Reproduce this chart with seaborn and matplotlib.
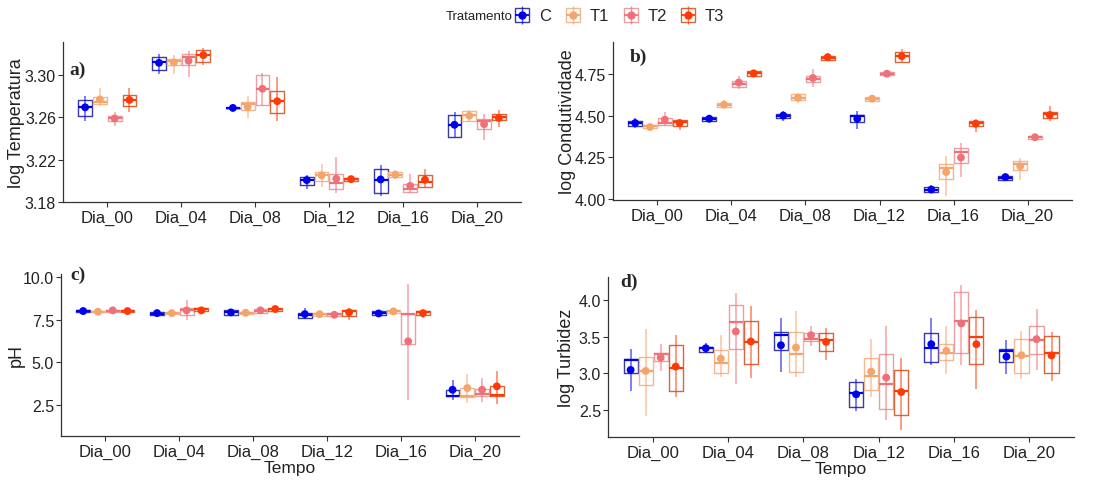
import numpy as np
import pandas as pd
import matplotlib
matplotlib.use('Agg')
import matplotlib.pyplot as plt
from matplotlib.lines import Line2D
import seaborn as sns

sns.set_theme(style='ticks')
plt.rcParams['font.family'] = ['Liberation Sans', 'DejaVu Sans']

dias = ['Dia_00', 'Dia_04', 'Dia_08', 'Dia_12', 'Dia_16', 'Dia_20']
tratamentos = ['C', 'T1', 'T2', 'T3']

# each row = one day, columns = C, T1, T2, T3
temp_q1 = [[3.2616, 3.2725, 3.2562, 3.2709], [3.3054, 3.3096, 3.3102, 3.3128], [3.2686, 3.2674, 3.2722, 3.2642],
           [3.1960, 3.1998, 3.1922, 3.1998], [3.1880, 3.2037, 3.1896, 3.1938], [3.2418, 3.2568, 3.2494, 3.2579]]
temp_med = [[3.2696, 3.2750, 3.2590, 3.2766], [3.3122, 3.3134, 3.3170, 3.3192], [3.2690, 3.2728, 3.2872, 3.2757],
            [3.2008, 3.2056, 3.1976, 3.2014], [3.2008, 3.2056, 3.1918, 3.1986], [3.2530, 3.2622, 3.2568, 3.2600]]
temp_q3 = [[3.2766, 3.2792, 3.2616, 3.2814], [3.3176, 3.3154, 3.3202, 3.3240], [3.2693, 3.2750, 3.3006, 3.2850],
           [3.2030, 3.2085, 3.2062, 3.2027], [3.2114, 3.2078, 3.1970, 3.2050], [3.2626, 3.2658, 3.2584, 3.2633]]
temp_mean = [[3.2696, 3.2770, 3.2590, 3.2766], [3.3118, 3.3122, 3.3138, 3.3192], [3.2690, 3.2699, 3.2872, 3.2754],
             [3.2005, 3.2050, 3.2018, 3.2014], [3.2011, 3.2056, 3.1950, 3.2008], [3.2530, 3.2616, 3.2536, 3.2595]]
temp_lo = [[3.2562, 3.2712, 3.2514, 3.2654], [3.3010, 3.3010, 3.2984, 3.3102], [3.2685, 3.2594, 3.2722, 3.2568],
           [3.1922, 3.1944, 3.1880, 3.1992], [3.1858, 3.2014, 3.1880, 3.1938], [3.2418, 3.2552, 3.2386, 3.2506]]
temp_hi = [[3.2808, 3.2878, 3.2654, 3.2878], [3.3198, 3.3192, 3.3230, 3.3256], [3.2695, 3.2802, 3.3026, 3.2981],
           [3.2050, 3.2158, 3.2226, 3.2040], [3.2146, 3.2098, 3.2066, 3.2110], [3.2654, 3.2674, 3.2632, 3.2670]]

cond_q1 = [[4.440, 4.426, 4.442, 4.436], [4.470, 4.553, 4.675, 4.736], [4.486, 4.592, 4.705, 4.837],
           [4.462, 4.588, 4.744, 4.825], [4.041, 4.122, 4.219, 4.436], [4.116, 4.172, 4.361, 4.484]]
cond_med = [[4.456, 4.436, 4.456, 4.462], [4.482, 4.566, 4.693, 4.754], [4.501, 4.608, 4.720, 4.847],
            [4.497, 4.602, 4.752, 4.857], [4.057, 4.189, 4.280, 4.456], [4.128, 4.213, 4.371, 4.510]]
cond_q3 = [[4.470, 4.446, 4.486, 4.476], [4.491, 4.578, 4.709, 4.766], [4.513, 4.628, 4.736, 4.857],
           [4.507, 4.614, 4.760, 4.882], [4.071, 4.213, 4.304, 4.470], [4.138, 4.229, 4.379, 4.524]]
cond_mean = [[4.456, 4.432, 4.476, 4.456], [4.482, 4.566, 4.699, 4.754], [4.501, 4.608, 4.726, 4.851],
             [4.482, 4.602, 4.752, 4.857], [4.057, 4.162, 4.249, 4.452], [4.132, 4.197, 4.371, 4.504]]
cond_lo = [[4.426, 4.412, 4.436, 4.412], [4.466, 4.547, 4.659, 4.736], [4.466, 4.578, 4.675, 4.827],
           [4.420, 4.582, 4.736, 4.821], [4.036, 4.020, 4.132, 4.401], [4.116, 4.116, 4.355, 4.470]]
cond_hi = [[4.486, 4.446, 4.523, 4.482], [4.501, 4.592, 4.736, 4.774], [4.527, 4.638, 4.780, 4.878],
           [4.527, 4.618, 4.766, 4.902], [4.085, 4.257, 4.334, 4.482], [4.146, 4.249, 4.385, 4.560]]

ph_q1 = [[7.93, 7.93, 7.97, 7.93], [7.75, 7.83, 7.79, 7.99], [7.75, 7.85, 7.89, 8.01],
         [7.60, 7.74, 7.70, 7.74], [7.75, 7.89, 6.09, 7.79], [2.99, 2.95, 2.99, 2.99]]
ph_med = [[8.01, 7.97, 8.03, 8.01], [7.85, 7.89, 8.05, 8.13], [7.93, 7.91, 8.03, 8.13],
          [7.75, 7.81, 7.81, 7.99], [7.87, 7.99, 7.83, 7.95], [3.03, 3.03, 3.15, 3.07]]
ph_q3 = [[8.09, 8.00, 8.09, 8.09], [7.95, 7.97, 8.19, 8.19], [8.05, 7.97, 8.15, 8.21],
         [7.89, 7.89, 7.89, 8.09], [7.99, 8.09, 7.85, 8.03], [3.34, 3.48, 3.42, 3.62]]
ph_mean = [[8.01, 7.97, 8.05, 8.01], [7.89, 7.89, 8.05, 8.05], [7.93, 7.91, 8.05, 8.13],
           [7.83, 7.83, 7.79, 7.93], [7.87, 7.99, 6.23, 7.89], [3.38, 3.48, 3.38, 3.58]]
ph_lo = [[7.85, 7.89, 7.89, 7.89], [7.70, 7.79, 7.50, 7.85], [7.70, 7.81, 7.89, 7.95],
         [7.54, 7.72, 7.68, 7.46], [7.70, 7.85, 2.80, 7.60], [2.76, 2.60, 2.66, 2.54]]
ph_hi = [[8.13, 8.05, 8.19, 8.19], [8.05, 7.99, 8.64, 8.24], [8.13, 7.99, 8.17, 8.24],
         [8.19, 7.93, 7.91, 8.19], [8.09, 8.13, 9.62, 8.05], [3.97, 4.32, 4.07, 4.50]]

turb_q1 = [[3.007, 2.834, 3.168, 2.756], [3.296, 3.007, 3.337, 3.131], [3.318, 3.021, 3.442, 3.305],
           [2.541, 2.770, 2.504, 2.427], [3.158, 3.177, 3.273, 3.131], [3.158, 2.999, 3.259, 2.997]]
turb_med = [[3.181, 3.030, 3.259, 3.076], [3.341, 3.145, 3.703, 3.433], [3.524, 3.259, 3.474, 3.451],
            [2.724, 2.962, 2.847, 2.756], [3.341, 3.273, 3.716, 3.497], [3.305, 3.236, 3.456, 3.270]]
turb_q3 = [[3.190, 3.227, 3.273, 3.383], [3.364, 3.318, 3.936, 3.716], [3.565, 3.565, 3.547, 3.543],
           [2.879, 3.204, 3.259, 3.044], [3.556, 3.396, 4.105, 3.762], [3.337, 3.465, 3.639, 3.512]]
turb_mean = [[3.044, 3.030, 3.213, 3.090], [3.341, 3.200, 3.570, 3.433], [3.382, 3.350, 3.520, 3.428],
             [2.710, 3.021, 2.939, 2.742], [3.396, 3.305, 3.680, 3.396], [3.227, 3.245, 3.465, 3.243]]
turb_lo = [[2.756, 2.413, 3.030, 2.678], [3.282, 2.953, 2.857, 2.939], [3.021, 2.953, 3.374, 3.181],
           [2.481, 2.678, 2.358, 2.216], [3.108, 2.994, 3.113, 2.779], [2.994, 2.925, 3.044, 2.888]]
turb_hi = [[3.328, 3.602, 3.396, 3.520], [3.419, 3.520, 4.096, 3.913], [3.748, 3.844, 3.648, 3.611],
           [2.925, 3.474, 3.639, 3.213], [3.748, 3.648, 4.210, 3.863], [3.456, 3.570, 3.876, 3.558]]

cores = ['#0000F0', '#F5A46C', '#F07078', '#FF3A05']
cores_caixa = ['#3B3BA8', '#F3B890', '#E9A0A5', '#D8663A']

paineis = [
    ('a)', 'log Temperatura', temp_q1, temp_med, temp_q3, temp_mean, temp_lo, temp_hi,
     (3.1797, 3.3316), [3.18, 3.22, 3.26, 3.30], '{:.2f}'),
    ('b)', 'log Condutividade', cond_q1, cond_med, cond_q3, cond_mean, cond_lo, cond_hi,
     (3.994, 4.942), [4.00, 4.25, 4.50, 4.75], '{:.2f}'),
    ('c)', 'pH', ph_q1, ph_med, ph_q3, ph_mean, ph_lo, ph_hi,
     (0.66, 10.19), [2.5, 5.0, 7.5, 10.0], '{:.1f}'),
    ('d)', 'log Turbidez', turb_q1, turb_med, turb_q3, turb_mean, turb_lo, turb_hi,
     (2.127, 4.315), [2.5, 3.0, 3.5, 4.0], '{:.1f}'),
]

posicoes = [
    [0.0575, 0.578, 0.4183, 0.3326],
    [0.5598, 0.582, 0.4192, 0.3286],
    [0.0557, 0.0915, 0.4183, 0.3368],
    [0.5553, 0.0894, 0.4256, 0.3326],
]
rotulo_xy = [(0.015, 0.83), (0.037, 0.91), (0.02, 1.0), (0.026, 0.97)]
ylabel_x = [-0.083, -0.08, -0.08, -0.07]

fig = plt.figure(figsize=(10.95, 4.81), dpi=100)

dodge = [-0.3, -0.1, 0.1, 0.3]
largura = 0.1875

for k, (rot, ylab, q1, med, q3, media, lo, hi, ylim, yticks, fmt) in enumerate(paineis):
    ax = fig.add_axes(posicoes[k])
    linhas = []
    for i, dia in enumerate(dias):
        for j, t in enumerate(tratamentos):
            linhas.append({'dia': dia, 'trat': t, 'x': i + dodge[j],
                           'q1': q1[i][j], 'med': med[i][j], 'q3': q3[i][j],
                           'mean': media[i][j], 'lo': lo[i][j], 'hi': hi[i][j]})
    df = pd.DataFrame(linhas)

    for j, t in enumerate(tratamentos):
        sub = df[df['trat'] == t]
        stats = [{'med': r.med, 'q1': r.q1, 'q3': r.q3, 'whislo': r.q1, 'whishi': r.q3, 'fliers': []}
                 for r in sub.itertuples()]
        ax.bxp(stats, positions=sub['x'].values, widths=largura, showcaps=False,
               patch_artist=False, manage_ticks=False,
               boxprops=dict(color=cores_caixa[j], linewidth=1.0),
               whiskerprops=dict(linewidth=0),
               medianprops=dict(color=cores[j], linewidth=1.6))
        ax.vlines(sub['x'], sub['lo'], sub['hi'], color=cores[j], alpha=0.55, linewidth=1.3, zorder=3)

    sns.scatterplot(data=df, x='x', y='mean', hue='trat', palette=cores, hue_order=tratamentos,
                    s=32, edgecolor='none', legend=False, ax=ax, zorder=4)

    ax.set_xlim(-0.6, 5.6)
    ax.set_ylim(*ylim)
    ax.set_xticks(range(len(dias)))
    ax.set_xticklabels(dias)
    ax.set_yticks(yticks)
    ax.set_yticklabels([fmt.format(v) for v in yticks])
    ax.tick_params(axis='x', labelsize=12, colors='#333333', length=3.5, width=0.8,
                   labelcolor='#222222', pad=2)
    ax.tick_params(axis='y', labelsize=11.5, colors='#333333', length=3.5, width=0.8,
                   labelcolor='#222222', pad=1.5)
    for s in ['top', 'right']:
        ax.spines[s].set_visible(False)
    for s in ['left', 'bottom']:
        ax.spines[s].set_color('#333333')
        ax.spines[s].set_linewidth(0.9)
    ax.set_ylabel(ylab, fontsize=13, color='#222222')
    ax.yaxis.set_label_coords(ylabel_x[k], 0.5)
    if k >= 2:
        ax.set_xlabel('Tempo', fontsize=12.5, color='#222222')
        ax.xaxis.set_label_coords(0.5, -0.15)
    else:
        ax.set_xlabel('')
    ax.text(rotulo_xy[k][0], rotulo_xy[k][1], rot, transform=ax.transAxes, fontsize=14,
            fontweight='bold', family='Liberation Serif', va='center', ha='left')

# legend
handles = []
for j, t in enumerate(tratamentos):
    caixa = Line2D([], [], marker='s', markersize=10, markerfacecolor='none',
                   markeredgecolor=cores_caixa[j], markeredgewidth=1.0, linestyle='none')
    cruz_h = Line2D([], [], marker='_', markersize=10, markeredgecolor=cores[j], markeredgewidth=1.3,
                    linestyle='none')
    cruz_v = Line2D([], [], marker='|', markersize=13, markeredgecolor=cores[j], markeredgewidth=1.0,
                    alpha=0.7, linestyle='none')
    ponto = Line2D([], [], marker='o', markersize=5, color=cores[j], linestyle='none')
    handles.append((caixa, cruz_h, cruz_v, ponto))

fig.text(0.468, 0.965, 'Tratamento', fontsize=9.5, ha='right', va='center', color='#222222')
fig.legend(handles, tratamentos, loc='center left', bbox_to_anchor=(0.468, 0.965), ncol=4,
           frameon=False, fontsize=12, handlelength=1.2, handletextpad=0.4, columnspacing=0.7,
           borderaxespad=0, borderpad=0)

plt.savefig('out.png', dpi=100)
